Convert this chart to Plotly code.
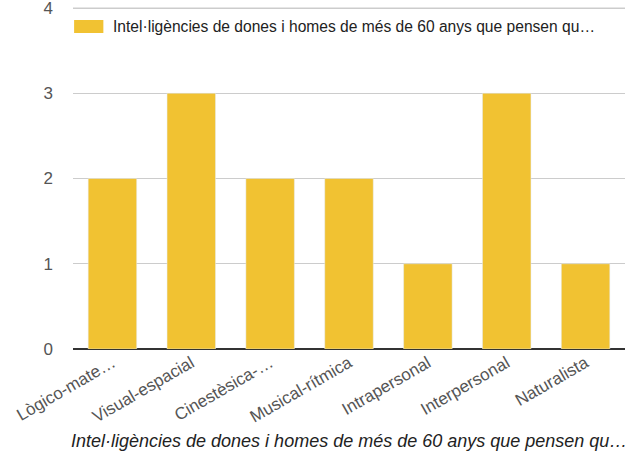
import plotly.graph_objects as go

# Number of people naming each intelligence type
categories = ["Lògico-mate…", "Visual-espacial", "Cinestèsica-…", "Musical-rítmica",
              "Intrapersonal", "Interpersonal", "Naturalista"]
counts = [2, 3, 2, 2, 1, 3, 1]
series_name = "Intel·ligències de dones i homes de més de 60 anys que pensen qu…"
y_ticks = [0, 1, 2, 3, 4]

BAR_COLOR = "#f1c232"
GRID_COLOR = "#cccccc"
FONT = "Liberation Sans, Arial, sans-serif"

# value axis: 0 at pixel row 349, 4 at pixel row 8
ZERO_ROW, FOUR_ROW, PLOT_TOP = 349, 8, 3
PX_PER_UNIT = (ZERO_ROW - FOUR_ROW) / 4
Y_MAX = (ZERO_ROW - PLOT_TOP) / PX_PER_UNIT
H = ZERO_ROW - PLOT_TOP


def py(pixel_row):
    return (ZERO_ROW - pixel_row) / H


fig = go.Figure(
    go.Bar(x=categories, y=counts, name=series_name, marker_color=BAR_COLOR,
           showlegend=False)
)

fig.update_layout(
    width=633, height=454,
    margin=dict(l=73, r=8, t=PLOT_TOP, b=454 - ZERO_ROW),
    paper_bgcolor="white", plot_bgcolor="white",
    bargap=0.385,
    font=dict(family=FONT, size=16, color="#555"),
    xaxis=dict(
        tickangle=-30, tickfont=dict(size=17, color="#555"),
        showgrid=False, ticks="", showline=False, automargin=False,
    ),
    yaxis=dict(
        range=[0, Y_MAX], tickvals=y_ticks, showgrid=True, gridcolor=GRID_COLOR,
        zeroline=True, zerolinecolor="#333", zerolinewidth=1.5,
        tickfont=dict(size=17, color="#555"), ticks="", ticklabelstandoff=19,
        ticklabeloverflow="allow", automargin=False,
    ),
)

# Top gridline at the highest tick value (no bar reaches it)
fig.add_shape(type="line", xref="paper", yref="y", x0=0, x1=1,
              y0=y_ticks[-1], y1=y_ticks[-1], layer="above",
              line=dict(color=GRID_COLOR, width=1))

# Legend: wide swatch with series label
fig.add_shape(type="rect", xref="paper", yref="paper",
              x0=0.002, x1=0.055, y0=py(33), y1=py(20),
              fillcolor=BAR_COLOR, line_width=0)
fig.add_annotation(xref="paper", yref="paper", x=0.069, y=py(26.5),
                   xanchor="left", yanchor="middle", showarrow=False,
                   text=series_name, font=dict(size=15.6, color="#222"))

# X axis title
fig.add_annotation(xref="paper", yref="paper", x=0.5, y=py(441),
                   xanchor="center", yanchor="middle", showarrow=False,
                   text=f"<i>{series_name}</i>", font=dict(size=18, color="#222"))

fig.write_html("out.html")
